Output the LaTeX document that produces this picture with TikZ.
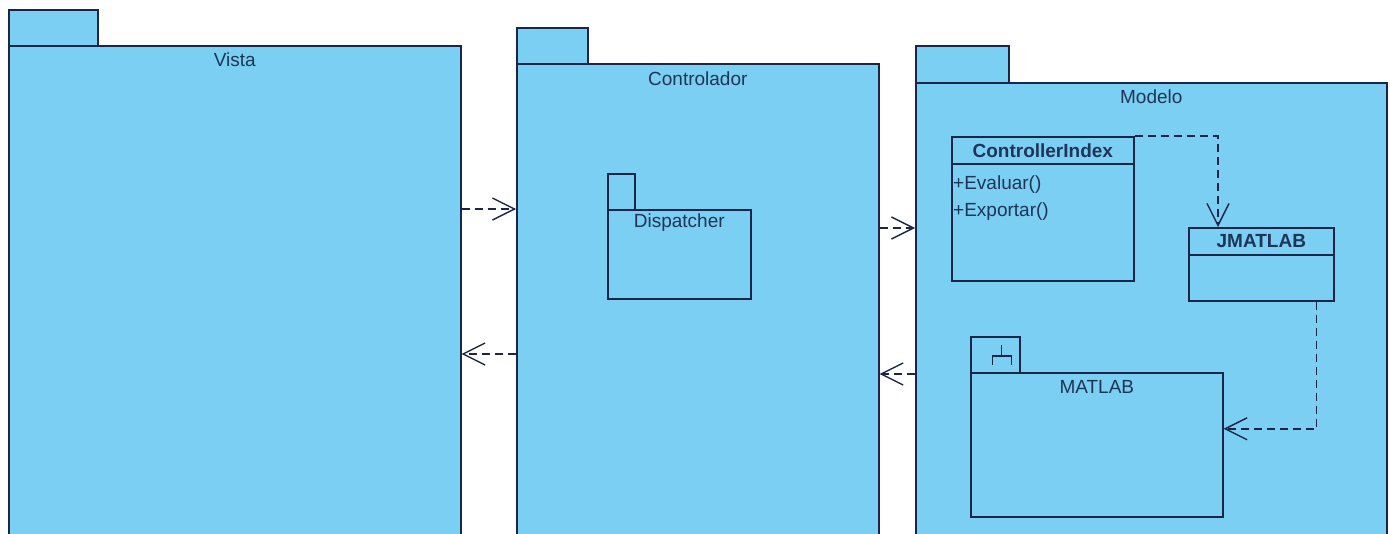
\documentclass[tikz,border=0pt]{standalone}
\usepackage{fontspec}
\setmainfont{Liberation Sans}
\usetikzlibrary{positioning,arrows.meta}
\definecolor{pkgblue}{HTML}{7BCFF2}
\definecolor{pkgline}{HTML}{1B2548}
\definecolor{pkgtext}{HTML}{1E3557}

\begin{document}
\begin{tikzpicture}[x=1pt, y=-1pt,
        pkg/.style={draw=pkgline, fill=pkgblue, line width=1.6pt, anchor=north west, inner sep=0pt},
        ttl/.style={text=pkgtext, font=\fontsize{19}{27}\selectfont, inner sep=0pt},
        dep/.style={draw=pkgline, line width=1.4pt, dash pattern=on 8pt off 5pt,
          -{Straight Barb[length=22pt, width=22pt, line width=1.4pt]}}]
      \clip (0,0) rectangle (1390,533);
      \fill[white] (0,0) rectangle (1390,533);
      % packages
      \node[pkg, minimum width=89, minimum height=36] (vistaTab) at (8,9) {};
      \node[pkg, minimum width=452, minimum height=500] (vista) at (8,45) {};
      \node[ttl] (vistaLbl) at ([yshift=-15pt]vista.north) {Vista};
      \node[pkg, minimum width=71, minimum height=36] (ctrlTab) at (516,27) {};
      \node[pkg, minimum width=362, minimum height=480] (ctrl) at (516,63) {};
      \node[ttl] (ctrlLbl) at ([yshift=-16pt]ctrl.north) {Controlador};
      \node[pkg, minimum width=93, minimum height=37] (modTab) at (915,45) {};
      \node[pkg, minimum width=471, minimum height=460] (mod) at (915,82) {};
      \node[ttl] (modLbl) at ([yshift=-15pt]mod.north) {Modelo};
      % Dispatcher
      \node[pkg, minimum width=27, minimum height=36] (dispTab) at (607,173) {};
      \node[pkg, minimum width=143, minimum height=89] (disp) at (607,209) {};
      \node[ttl] (dispLbl) at ([yshift=-14pt]disp.north) {Dispatcher};
      % classes
      \node[pkg, minimum width=182, minimum height=27] (ciT) at (951,136) {};
      \node[ttl, font=\fontsize{19}{27}\selectfont\bfseries] (ciLbl) at (ciT.center) {ControllerIndex};
      \node[pkg, minimum width=182, minimum height=117] (ciB) at (951,163) {};
      \node[ttl, anchor=north west, align=left] (ciOps) at ([xshift=2pt,yshift=-13pt]ciB.north west) {+Evaluar()\\+Exportar()};
      \node[pkg, minimum width=145, minimum height=27] (jmT) at (1188,227) {};
      \node[ttl, font=\fontsize{19}{27}\selectfont\bfseries] (jmLbl) at (jmT.center) {JMATLAB};
      \node[pkg, minimum width=145, minimum height=46] (jmB) at (1188,254) {};
      % MATLAB subsystem
      \node[pkg, minimum width=49, minimum height=36] (matTab) at (970,336) {};
      \node[pkg, minimum width=252, minimum height=144] (matB) at (970,372) {};
      \node[ttl] (matLbl) at ([yshift=-15pt]matB.north) {MATLAB};
      \draw[pkgline, line width=1.6pt] ([shift={(6,-10)}]matTab.center) -- ([shift={(6,1)}]matTab.center)
        ([shift={(-3,10)}]matTab.center) -- ([shift={(-3,1)}]matTab.center)
        -- ([shift={(16,1)}]matTab.center) -- ([shift={(16,10)}]matTab.center);
      % dependencies
      \coordinate (rowA) at (0,209);
      \coordinate (rowB) at (0,354);
      \coordinate (rowC) at (0,228);
      \coordinate (rowD) at (0,374);
      \draw[dep] (vista.east |- rowA) -- (ctrl.west |- rowA);
      \draw[dep] (ctrl.west |- rowB) -- (vista.east |- rowB);
      \draw[dep] (ctrl.east |- rowC) -- (mod.west |- rowC);
      \draw[dep] (mod.west |- rowD) -- (ctrl.east |- rowD);
      \draw[dep] (ciT.north east) -| ([xshift=30pt]jmT.north west);
      \draw[dep] ([xshift=-18pt]jmB.south east) |- ([yshift=16pt]matB.east);
      \end{tikzpicture}
\end{document}
